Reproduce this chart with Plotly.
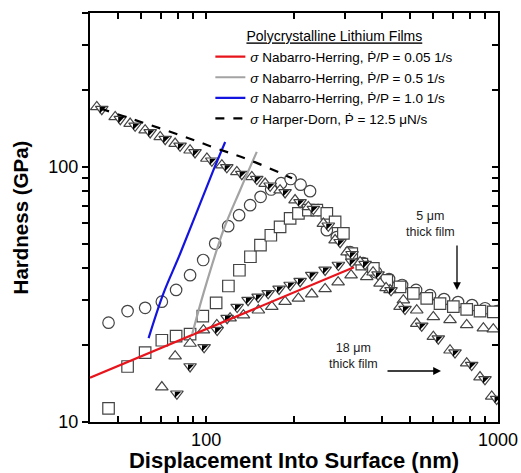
import plotly.graph_objects as go
import math

# ---------------- data ----------------
# Open circles (5 um film)
circ_x = [46.3, 53.8, 61.8, 70.5, 78.9, 88.1, 97.7, 107.4, 119.0, 129.7, 141.5, 153.7, 167.0, 180.6,
          194.7, 210.7, 227.0, 241.9, 259.1, 280.3, 311.3, 345.0, 382.1, 423.4, 469.2, 523.9, 584.8,
          653.2, 729.4, 814.7, 902.7, 995.0]
circ_y = [24.5, 27.2, 28.0, 29.6, 32.9, 37.6, 43.1, 50.0, 58.5, 64.6, 70.7, 76.2, 81.4, 86.2,
          89.5, 85.0, 80.2, 67.6, 56.4, 53.0, 46.3, 41.9, 38.6, 36.3, 34.4, 32.9, 31.4,
          30.3, 29.5, 28.7, 27.9, 27.2]

# Open squares (5 um film)
sq_x = [46.3, 53.8, 61.8, 70.5, 78.9, 88.1, 97.4, 108.2, 119.2, 130.0, 141.8, 153.5, 166.6, 179.2,
        194.0, 207.1, 224.0, 239.4, 259.1, 276.6, 295.3, 315.5, 341.5, 374.1, 415.8, 461.7, 512.8,
        570.0, 632.9, 703.0, 781.2, 867.7, 963.6]
sq_y = [11.3, 16.5, 18.7, 20.9, 21.7, 22.1, 26.0, 29.3, 34.1, 39.3, 44.4, 49.3, 53.9, 58.1,
        62.7, 65.6, 67.6, 67.6, 65.6, 60.8, 54.8, 45.7, 41.5, 40.0, 35.9, 33.8, 31.9,
        30.5, 29.1, 28.3, 27.6, 27.2, 27.0]

# Open up-triangles, upper branch (18 um film)
tup_hi_x = [42.2, 48.8, 54.9, 61.8, 69.6, 78.3, 88.1, 100.6, 113.2, 127.4, 143.4, 159.3, 179.2, 201.7,
            224.0, 252.1, 276.6, 304.0, 336.9, 373.2, 413.5, 461.7, 526.7, 600.4, 684.9, 781.2,
            867.7, 951.5]
tup_hi_y = [171.4, 156.6, 147.6, 139.0, 130.8, 123.2, 116.0, 107.7, 101.4, 95.4, 91.2, 85.9, 80.9, 74.0,
            69.6, 59.9, 51.6, 46.3, 42.3, 38.6, 33.5, 28.3, 24.3, 21.6, 19.1, 17.0,
            15.0, 12.6]

# Half-filled down-triangles, upper branch (18 um film)
tdn_hi_x = [43.9, 50.8, 57.1, 64.3, 72.4, 81.4, 91.6, 104.6, 117.7, 132.5, 149.1, 165.7, 186.4, 209.8,
            233.0, 262.2, 287.7, 316.2, 350.4, 388.1, 430.0, 480.2, 547.8, 624.4, 712.3, 812.4,
            902.4, 989.6]
tdn_hi_y = [168.0, 153.5, 144.6, 136.2, 128.2, 120.7, 113.7, 105.5, 99.4, 93.5, 89.4, 84.2, 79.3, 72.5,
            68.2, 58.7, 50.6, 45.4, 41.5, 37.8, 32.8, 27.7, 23.8, 21.2, 18.7, 16.7,
            14.7, 12.3]

# Open up-triangles, lower branch (5 um film)
tup_lo_x = [70.5, 78.3, 88.1, 97.9, 108.8, 120.8, 134.2, 151.0, 167.9, 186.4, 207.1, 230.1, 255.6,
            283.3, 313.8, 355.0, 394.3, 426.7, 474.0, 526.7, 600.4, 684.9, 781.2, 891.0, 963.6]
tup_lo_y = [13.7, 18.1, 20.3, 22.9, 24.0, 25.5, 26.2, 27.4, 28.3, 29.6, 30.5, 31.7, 33.2,
            35.3, 37.6, 37.0, 34.9, 32.9, 30.0, 27.4, 25.8, 25.1, 24.0, 23.3, 23.1]

# Half-filled down-triangles, lower branch
tdn_lo_x = [79.4, 88.1, 98.4, 109.1, 118.0, 127.7, 139.2, 150.7, 163.1, 177.8, 194.0, 209.9, 230.1,
            255.6, 283.9, 315.5]
tdn_lo_y = [12.9, 16.5, 19.6, 22.9, 25.5, 28.2, 30.0, 30.9, 31.9, 33.2, 34.4, 35.6, 37.6,
            39.4, 41.2, 42.4]

# Model curves
nh005_x = [40.0, 321.0]
nh005_y = [14.9, 40.4]
nh05_x = [89.6, 97.9, 114.6, 130.7, 149.1]
nh05_y = [22.1, 31.9, 56.4, 80.9, 114.3]
nh10_x = [63.5, 71.4, 81.5, 105.9, 116.2]
nh10_y = [21.3, 31.9, 45.7, 96.9, 125.0]
hd_x = [43.4, 81.5, 108.8, 141.5, 197.0]
hd_y = [169.0, 132.8, 117.8, 106.0, 90.1]

x_ticks = [40, 50, 60, 70, 80, 90, 100, 200, 300, 400, 500, 600, 700, 800, 900, 1000]
x_labels = ["" if v not in (100, 1000) else str(v) for v in x_ticks]
y_ticks = [10, 20, 30, 40, 50, 60, 70, 80, 90, 100, 200, 300, 400]
y_labels = ["" if v not in (10, 100) else str(v) for v in y_ticks]

# ---------------- figure ----------------
FONT = "Liberation Sans, Arial, sans-serif"
EDGE = "#444444"
fig = go.Figure()

def open_marker(sym, size=11):
    return dict(symbol=sym, size=size, color="white", line=dict(color=EDGE, width=1.2))

fig.add_trace(go.Scatter(x=circ_x, y=circ_y, mode="markers", marker=open_marker("circle", 11.5),
                         showlegend=False, hoverinfo="skip"))
fig.add_trace(go.Scatter(x=sq_x, y=sq_y, mode="markers", marker=open_marker("square", 11.5),
                         showlegend=False, hoverinfo="skip"))
for xs, ys in ((tup_lo_x, tup_lo_y), (tup_hi_x, tup_hi_y)):
    fig.add_trace(go.Scatter(x=xs, y=ys, mode="markers", marker=open_marker("triangle-up", 11),
                             showlegend=False, hoverinfo="skip"))
for xs, ys in ((tdn_lo_x, tdn_lo_y), (tdn_hi_x, tdn_hi_y)):
    fig.add_trace(go.Scatter(x=xs, y=ys, mode="markers", marker=open_marker("triangle-down", 11),
                             showlegend=False, hoverinfo="skip"))
    fig.add_trace(go.Scatter(x=xs, y=ys, mode="markers",
                             marker=dict(symbol="triangle-nw", size=7, color="black",
                                         line=dict(width=0)),
                             showlegend=False, hoverinfo="skip"))

sig = "<i>σ</i>"
fig.add_trace(go.Scatter(x=nh005_x, y=nh005_y, mode="lines", line=dict(color="#e8141c", width=2.2),
                         name=sig + " Nabarro-Herring, Ṗ/P = 0.05 1/s", legendrank=1))
fig.add_trace(go.Scatter(x=nh05_x, y=nh05_y, mode="lines", line=dict(color="#a3a3a3", width=2.2, shape="spline"),
                         name=sig + " Nabarro-Herring, Ṗ/P = 0.5 1/s", legendrank=2))
fig.add_trace(go.Scatter(x=nh10_x, y=nh10_y, mode="lines", line=dict(color="#1414e0", width=2.2, shape="spline"),
                         name=sig + " Nabarro-Herring, Ṗ/P = 1.0 1/s", legendrank=3))
fig.add_trace(go.Scatter(x=hd_x, y=hd_y, mode="lines", line=dict(color="black", width=2.2, dash="dash", shape="spline"),
                         name=sig + " Harper-Dorn, Ṗ = 12.5 μN/s", legendrank=4, yaxis="y2"))

yr = [1, math.log10(400)]
fig.update_layout(
    width=521, height=473,
    margin=dict(l=90, r=23, t=13, b=51, autoexpand=False),
    paper_bgcolor="white", plot_bgcolor="white",
    font=dict(family=FONT, color="black"),
    xaxis=dict(type="log", range=[math.log10(40), 3], tickvals=x_ticks, ticktext=x_labels,
               ticks="inside", ticklen=6, tickwidth=1.5, tickcolor="black", automargin=False,
               showline=True, linewidth=2, linecolor="black", mirror="ticks",
               showgrid=False, zeroline=False, tickfont=dict(size=18),
               title=dict(text="<b>Displacement Into Surface (nm)</b>", font=dict(size=22), standoff=2)),
    yaxis=dict(type="log", range=yr, tickvals=y_ticks, ticktext=y_labels,
               ticks="outside", ticklen=6, tickwidth=1.5, tickcolor="black", automargin=False,
               showline=True, linewidth=2, linecolor="black", mirror=True,
               showgrid=False, zeroline=False, tickfont=dict(size=18),
               title=dict(text="<b>Hardness (GPa)</b>", font=dict(size=20.5), standoff=14)),
    yaxis2=dict(type="log", range=yr, overlaying="y", side="right", tickvals=y_ticks,
                showticklabels=False, ticks="inside", ticklen=6, tickwidth=1.5, tickcolor="black",
                showline=False, showgrid=False, zeroline=False, automargin=False),
    legend=dict(x=0.295, y=0.975, xanchor="left", yanchor="top", bgcolor="rgba(0,0,0,0)",
                font=dict(size=13.5, family=FONT), tracegroupgap=0,
                title=dict(text="<u>Polycrystalline Lithium Films</u>", side="top center",
                           font=dict(size=14, family=FONT))),
    showlegend=True,
)

# Text annotations with arrows
fig.add_annotation(xref="paper", yref="paper", x=(457 - 90) / 408, y=1 - (224 - 13) / 409,
                   text="5 μm<br>thick film", showarrow=False, font=dict(size=12.5, color="#222"))
fig.add_annotation(xref="paper", yref="paper", x=(457 - 90) / 408, y=1 - (290 - 13) / 409,
                   ax=0, ay=-46, text="", showarrow=True, arrowhead=2, arrowsize=1.2, arrowwidth=1.3,
                   arrowcolor="black")
fig.add_annotation(xref="paper", yref="paper", x=(353 - 90) / 408, y=1 - (373 - 13) / 409,
                   text="18 μm<br>thick film", showarrow=False, font=dict(size=12.5, color="#222"))
fig.add_annotation(xref="paper", yref="paper", x=(441 - 90) / 408, y=1 - (371 - 13) / 409,
                   ax=-55, ay=0, text="", showarrow=True, arrowhead=2, arrowsize=1.2, arrowwidth=1.3,
                   arrowcolor="black")

fig.write_html("out.html", config={"displayModeBar": False})
with open("out.html", encoding="utf-8") as f:
    html = f.read()
html = html.replace("<head>", "<head><style>html,body{margin:0;padding:0;overflow:hidden;}</style>", 1)
with open("out.html", "w", encoding="utf-8") as f:
    f.write(html)
